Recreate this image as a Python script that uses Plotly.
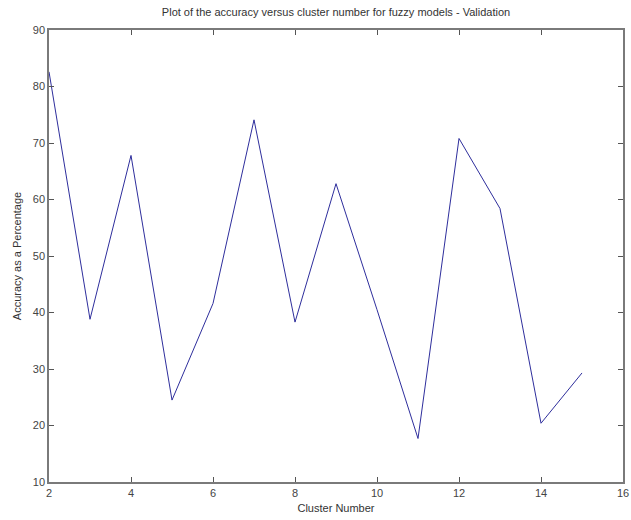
import plotly.graph_objects as go

cluster_number = [2, 3, 4, 5, 6, 7, 8, 9, 10, 11, 12, 13, 14, 15]
accuracy = [82.6, 38.8, 67.8, 24.5, 41.6, 74.1, 38.3, 62.8, 40.5, 17.7, 70.8, 58.4, 20.4, 29.3]

x_ticks = [2, 4, 6, 8, 10, 12, 14, 16]
y_ticks = [10, 20, 30, 40, 50, 60, 70, 80, 90]

FONT = "Liberation Sans, Arial, sans-serif"

fig = go.Figure()
fig.add_trace(go.Scatter(
    x=cluster_number, y=accuracy, mode="lines",
    line=dict(color="#2e2e9c", width=1),
    showlegend=False,
))

axis_common = dict(
    showgrid=False, zeroline=False, automargin=False,
    showline=True, linecolor="#7a7a7a", linewidth=1.5, mirror="ticks",
    ticks="inside", ticklen=5, tickcolor="#555555", tickwidth=1,
    tickfont=dict(family=FONT, size=11, color="#444444"),
)

fig.update_layout(
    width=631, height=520,
    margin=dict(l=49, r=8, t=30, b=38),
    paper_bgcolor="white", plot_bgcolor="white",
    title=dict(
        text="Plot of the accuracy versus cluster number for fuzzy models - Validation",
        x=0.5, xanchor="center", xref="paper", y=0.977, yanchor="middle",
        yref="container",
        font=dict(family=FONT, size=11, color="#333333"),
    ),
    xaxis=dict(
        range=[2, 16], tickvals=x_ticks,
        title=dict(text="Cluster Number", standoff=6,
                   font=dict(family=FONT, size=11, color="#333333")),
        **axis_common,
    ),
    yaxis=dict(
        range=[10, 90], tickvals=y_ticks,
        title=dict(text="Accuracy as a Percentage", standoff=9,
                   font=dict(family=FONT, size=11, color="#333333")),
        **axis_common,
    ),
)

fig.write_html(
    "out.html",
    config={"displayModeBar": False},
    post_script="document.body.style.margin='0';document.body.style.padding='0';",
)
